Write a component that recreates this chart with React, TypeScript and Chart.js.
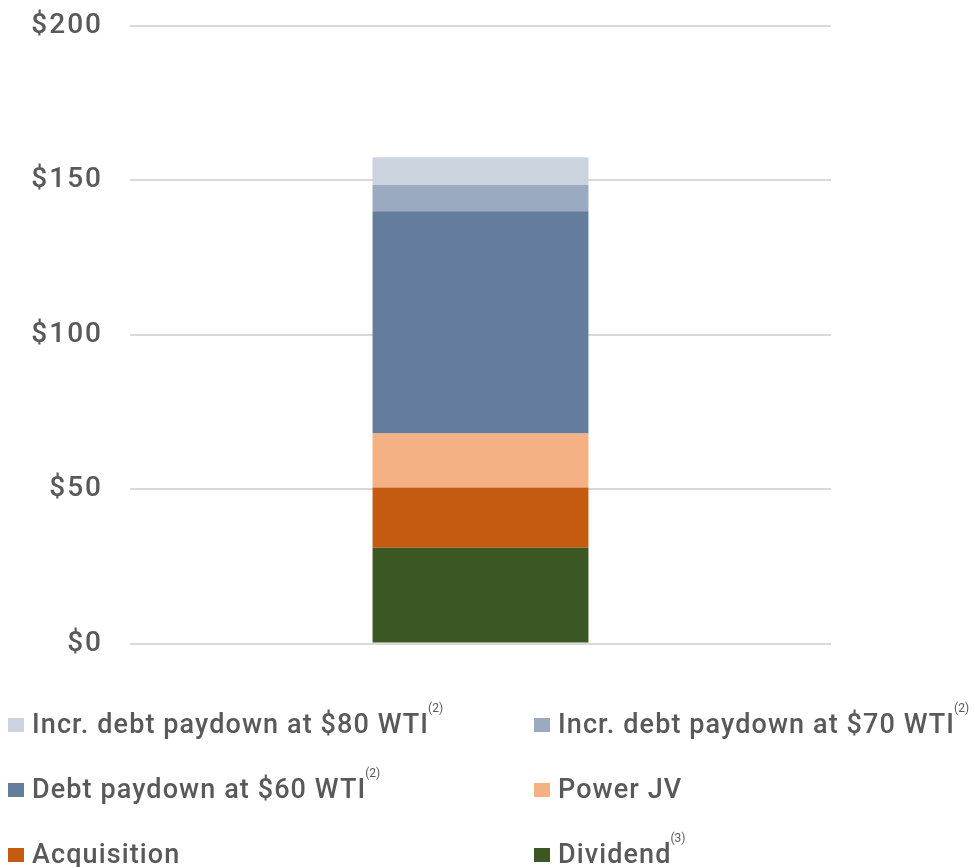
import React, { useEffect, useRef } from "react";
import { Chart, registerables } from "chart.js";

Chart.register(...registerables);

const categories = [""];
const dividend = [31];
const acquisition = [19.5];
const powerJV = [17.5];
const debt60 = [72];
const incr70 = [8.5];
const incr80 = [9];
const yTickValues = [0, 50, 100, 150, 200];

const seriesNames = [
  "Dividend",
  "Acquisition",
  "Power JV",
  "Debt paydown at $60 WTI",
  "Incr. debt paydown at $70 WTI",
  "Incr. debt paydown at $80 WTI",
];
const seriesNotes = ["(3)", "", "", "(2)", "(2)", "(2)"];
const seriesColors = ["#3A5724", "#C55A11", "#F4B183", "#647D9C", "#9AAAC0", "#CBD4DE"];
const seriesValues = [dividend, acquisition, powerJV, debt60, incr70, incr80];
// legend grid order (row by row, two columns), as indices into the series
const legendOrder = [5, 4, 3, 2, 1, 0];

const TEXT = "#595959";
const FONT = "Roboto, sans-serif";

const letterSpacingPlugin = {
  id: "letterSpacing",
  beforeDraw(chart: any) {
    (chart.ctx as any).letterSpacing = "2px";
  },
  afterDraw(chart: any) {
    (chart.ctx as any).letterSpacing = "0px";
  },
};

export default function App() {
  const canvasRef = useRef<HTMLCanvasElement | null>(null);

  useEffect(() => {
    document.body.style.margin = "0";
    const canvas = canvasRef.current;
    if (!canvas) return;
    const chart = new Chart(canvas, {
      type: "bar",
      data: {
        labels: categories,
        datasets: seriesNames.map((name, i) => ({
          label: name,
          data: seriesValues[i],
          backgroundColor: seriesColors[i],
          borderWidth: 0,
          barPercentage: 0.308,
          categoryPercentage: 1,
        })),
      },
      plugins: [letterSpacingPlugin],
      options: {
        responsive: false,
        maintainAspectRatio: false,
        animation: false,
        devicePixelRatio: 1,
        layout: { padding: { left: 0, right: 144, top: 26, bottom: 223.5 } },
        plugins: {
          legend: { display: false },
          tooltip: { enabled: false },
          title: { display: false },
        },
        scales: {
          x: {
            stacked: true,
            display: false,
          },
          y: {
            stacked: true,
            min: 0,
            max: 200,
            afterFit: (axis: any) => {
              axis.width = 130;
              axis.paddingTop = 0;
              axis.paddingBottom = 0;
            },
            afterBuildTicks: (axis: any) => {
              axis.ticks = yTickValues.map((v) => ({ value: v }));
            },
            border: { display: false },
            grid: {
              color: "#D9D9D9",
              lineWidth: 2,
              drawTicks: false,
            },
            ticks: {
              padding: 27,
              color: TEXT,
              font: { family: FONT, size: 28, weight: 500 },
              callback: (v: any) => "$" + v,
            },
          },
        },
      },
    });
    return () => chart.destroy();
  }, []);

  const rowTops = [711, 776, 841];
  const colSquareX = [8, 534];
  const colTextX = [32, 558];

  return (
    <div style={{ position: "relative", width: 975, height: 867, overflow: "hidden", background: "#fff" }}>
      <canvas ref={canvasRef} width={975} height={867} style={{ position: "absolute", left: 0, top: 0 }} />
      {legendOrder.map((si, k) => {
        const row = Math.floor(k / 2);
        const col = k % 2;
        return (
          <React.Fragment key={k}>
            <div
              style={{
                position: "absolute",
                left: colSquareX[col],
                top: rowTops[row] + 7,
                width: 16,
                height: 14,
                background: seriesColors[si],
              }}
            />
            <div
              style={{
                position: "absolute",
                left: colTextX[col],
                top: rowTops[row],
                fontFamily: FONT,
                fontSize: 27,
                fontWeight: 500,
                letterSpacing: "1.1px",
                lineHeight: "26px",
                color: TEXT,
                whiteSpace: "nowrap",
              }}
            >
              {seriesNames[si]}
              {seriesNotes[si] ? (
                <span style={{ fontSize: 12, fontWeight: 400, letterSpacing: 0, position: "relative", top: -21, marginLeft: -1 }}>
                  {seriesNotes[si]}
                </span>
              ) : null}
            </div>
          </React.Fragment>
        );
      })}
    </div>
  );
}
